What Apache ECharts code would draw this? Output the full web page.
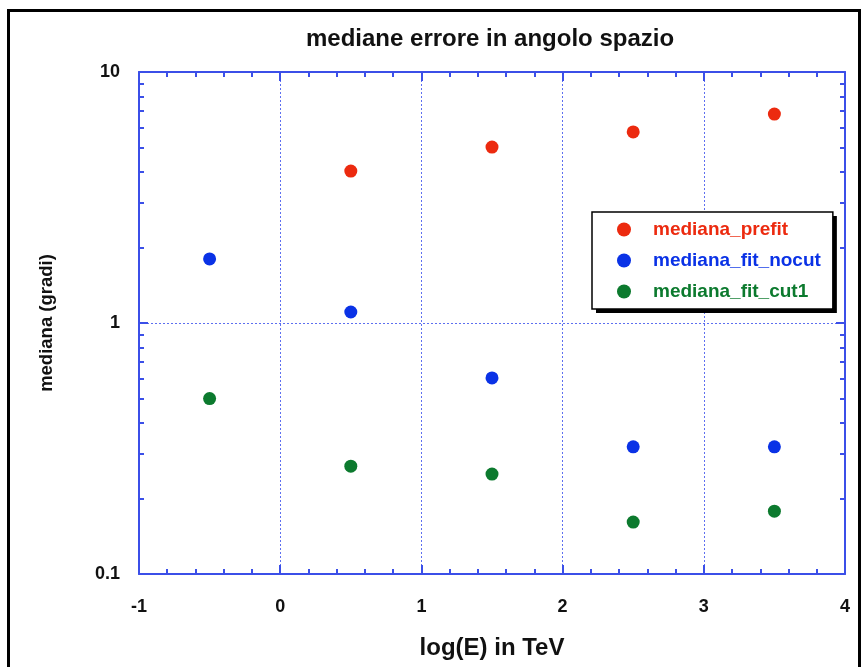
<!DOCTYPE html>
<html>
<head>
<meta charset="utf-8">
<script src="https://cdn.jsdelivr.net/npm/echarts@6/dist/echarts.min.js"></script>
<style>
html,body{margin:0;padding:0;background:#fff;}
#wrap{position:relative;width:864px;height:667px;overflow:hidden;}
#chart{position:absolute;left:0;top:0;width:864px;height:667px;}
#frame{position:absolute;left:7px;top:9px;width:848px;height:700px;border:3px solid #000;pointer-events:none;}
</style>
</head>
<body>
<div id="wrap"><div id="frame"></div><div id="chart"></div></div>
<script>
const titleText = 'mediane errore in angolo spazio';
const xName = 'log(E) in TeV';
const yName = 'mediana (gradi)';
const seriesNames = ['mediana_prefit', 'mediana_fit_nocut', 'mediana_fit_cut1'];
const seriesColors = ['#ec2a0f', '#0a32e6', '#0c7a2e'];
const prefitX = [0.5, 1.5, 2.5, 3.5];
const prefitY = [4.03, 5.02, 5.77, 6.8];
const nocutX = [-0.5, 0.5, 1.5, 2.5, 3.5];
const nocutY = [1.80, 1.106, 0.604, 0.321, 0.321];
const cut1X = [-0.5, 0.5, 1.5, 2.5, 3.5];
const cut1Y = [0.50, 0.269, 0.250, 0.161, 0.178];
const yMajorTicks = [0.1, 1, 10];
const yMinorTicks = [0.2,0.3,0.4,0.5,0.6,0.7,0.8,0.9,2,3,4,5,6,7,8,9];

const FONT = "'Liberation Sans', Arial, Helvetica, sans-serif";
const AX = '#3b4fe8';
const zip = (xs, ys) => xs.map((x, i) => [x, ys[i]]);

const chart = echarts.init(document.getElementById('chart'), null, {renderer: 'canvas'});

function xAx(pos, main) {
  return {
    type: 'value', position: pos, min: -1, max: 4, interval: 1,
    axisLine: {show: true, onZero: false, lineStyle: {color: AX, width: 2}},
    axisTick: {show: true, inside: true, length: 9, lineStyle: {color: AX, width: 2}},
    minorTick: {show: true, splitNumber: 5, length: 5, lineStyle: {color: AX, width: 2}},
    splitLine: {show: main, lineStyle: {color: '#5d6ff0', type: [2, 2], width: 1}},
    minorSplitLine: {show: false},
    axisLabel: {show: main, fontFamily: FONT, fontWeight: 'bold', fontSize: 18, color: '#111', margin: 24},
    name: main ? xName : '', nameLocation: 'middle', nameGap: 62,
    nameTextStyle: {fontFamily: FONT, fontWeight: 'bold', fontSize: 24, color: '#111'}
  };
}
function yAx(pos, major, main) {
  return {
    type: 'log', logBase: 10, position: pos, min: 0.1, max: 10,
    axisLine: {show: major, onZero: false, lineStyle: {color: AX, width: 2}},
    axisTick: {show: true, inside: true, length: major ? 9 : 5,
      customValues: major ? yMajorTicks : yMinorTicks, lineStyle: {color: AX, width: 2}},
    splitLine: {show: main, lineStyle: {color: '#5d6ff0', type: [2, 2], width: 1}},
    axisLabel: {show: main, customValues: yMajorTicks, fontFamily: FONT, fontWeight: 'bold', fontSize: 18, color: '#111', margin: 19,
      formatter: v => String(v)},
    name: main ? yName : '', nameLocation: 'middle', nameGap: 83,
    nameTextStyle: {fontFamily: FONT, fontWeight: 'bold', fontSize: 18.5, color: '#111'}
  };
}

const legendBase = {
  orient: 'vertical', left: 592, top: 212,
  padding: [8, 12, 8, 25],
  itemGap: 12, itemWidth: 14, itemHeight: 14, icon: 'circle',
  borderRadius: 0
};
const legendText = {fontFamily: FONT, fontWeight: 'bold', fontSize: 19, lineHeight: 19, padding: [0, 0, 0, 17]};

const option = {
  animation: false,
  backgroundColor: 'transparent',
  title: {
    text: titleText, left: 306, top: 27, padding: 0,
    textStyle: {fontFamily: FONT, fontWeight: 'bold', fontSize: 24, color: '#111'}
  },
  grid: {left: 139, right: 19, top: 72, bottom: 93, containLabel: false},
  legend: [
    Object.assign({}, legendBase, {
      backgroundColor: '#fff', borderWidth: 0,
      shadowColor: '#000', shadowBlur: 0, shadowOffsetX: 4, shadowOffsetY: 4,
      textStyle: legendText,
      data: seriesNames.map((n, i) => ({name: n, textStyle: {color: seriesColors[i]}}))
    }),
    Object.assign({}, legendBase, {
      backgroundColor: 'transparent', borderColor: '#000', borderWidth: 1.5,
      textStyle: legendText,
      itemStyle: {opacity: 0},
      data: seriesNames.map((n) => ({name: n, textStyle: {color: 'rgba(0,0,0,0)'}, itemStyle: {opacity: 0}}))
    })
  ],
  xAxis: [xAx('bottom', true), xAx('top', false)],
  yAxis: [yAx('left', true, true), yAx('left', false, false), yAx('right', true, false), yAx('right', false, false)],
  series: [
    {name: seriesNames[0], type: 'scatter', xAxisIndex: 0, yAxisIndex: 0, symbolSize: 13, itemStyle: {color: seriesColors[0], opacity: 1}, data: zip(prefitX, prefitY)},
    {name: seriesNames[1], type: 'scatter', xAxisIndex: 0, yAxisIndex: 0, symbolSize: 13, itemStyle: {color: seriesColors[1], opacity: 1}, data: zip(nocutX, nocutY)},
    {name: seriesNames[2], type: 'scatter', xAxisIndex: 0, yAxisIndex: 0, symbolSize: 13, itemStyle: {color: seriesColors[2], opacity: 1}, data: zip(cut1X, cut1Y)}
  ]
};
chart.setOption(option);
</script>
</body>
</html>
